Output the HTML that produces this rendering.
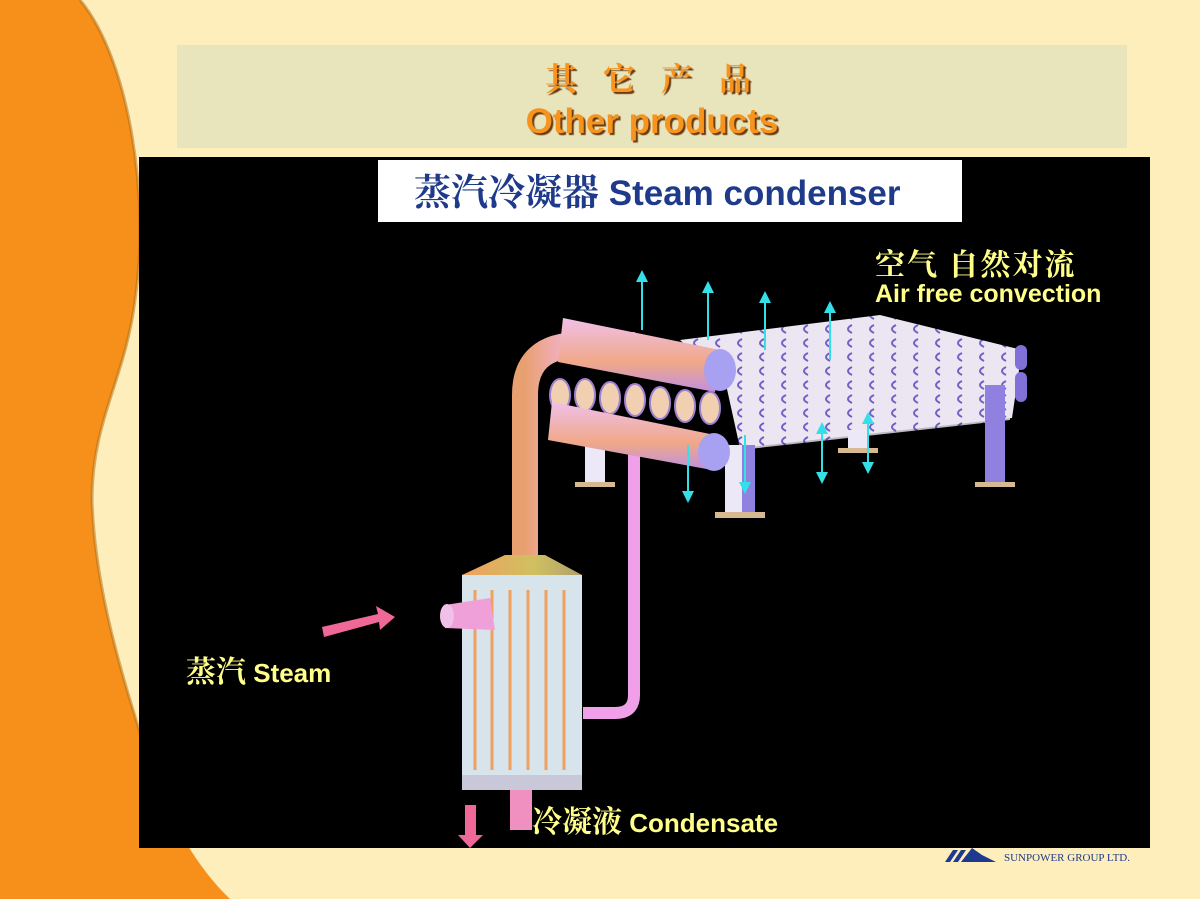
<!DOCTYPE html>
<html><head><meta charset="utf-8"><style>
*{margin:0;padding:0}
body{width:1200px;height:899px;overflow:hidden;background:#fdeebb;position:relative;font-family:"Liberation Sans","Noto Sans CJK SC",sans-serif}
.a{position:absolute;white-space:nowrap}
.s{font-family:"Liberation Serif","Noto Serif CJK SC",serif;font-weight:bold}
</style></head><body>
<svg class="a" style="left:0;top:0" width="1200" height="899">
<defs>
<linearGradient id="pk" x1="0" x2="1"><stop offset="0" stop-color="#e9a070"/><stop offset=".5" stop-color="#f4b8e8"/><stop offset="1" stop-color="#d890e0"/></linearGradient>
<linearGradient id="cy" x1="0" y1="0" x2="0" y2="1"><stop offset="0" stop-color="#f0c0e8"/><stop offset=".6" stop-color="#f0a888"/><stop offset="1" stop-color="#c090e0"/></linearGradient>
<linearGradient id="cone" x1="0" x2="1"><stop offset="0" stop-color="#f0a060"/><stop offset=".6" stop-color="#d0c060"/><stop offset="1" stop-color="#b0a070"/></linearGradient>
<pattern id="fin" width="22" height="14" patternUnits="userSpaceOnUse"><rect width="22" height="14" fill="#ece6f2"/><path d="M16 3 Q8 7 16 11" stroke="#7060c8" stroke-width="2" fill="none"/></pattern>
<marker id="ah" markerWidth="6" markerHeight="6" refX="3" refY="3" orient="auto"><path d="M0,0 L6,3 L0,6Z" fill="#33e0e8"/></marker>
</defs>
<path d="M0,0 L80,0 C130,60 150,200 135,300 C125,380 92,420 92,500 C95,600 130,700 155,780 C180,840 205,875 230,899 L0,899Z" fill="#f7901a"/>
<path d="M80,0 C130,60 150,200 135,300 C125,380 92,420 92,500 C95,600 130,700 155,780" stroke="#b06a10" stroke-width="3" fill="none" opacity=".5"/>
<rect x="177" y="45" width="950" height="103" fill="#e8e4bc"/>
<rect x="139" y="157" width="1011" height="691" fill="#000"/>
<rect x="378" y="160" width="584" height="62" fill="#fff"/>
<polygon points="680,340 880,315 1022,350 1012,418 740,448 725,380" fill="url(#fin)"/>
<polygon points="730,395 1010,360 1010,420 740,450" fill="url(#fin)" opacity=".8"/>
<rect x="585" y="440" width="20" height="45" fill="#ece8f8"/><rect x="575" y="482" width="40" height="5" fill="#d8b890"/>
<rect x="725" y="445" width="30" height="70" fill="#ece8f8"/><rect x="742" y="445" width="13" height="70" fill="#9080e0"/><rect x="715" y="512" width="50" height="6" fill="#d8b890"/>
<rect x="848" y="430" width="20" height="20" fill="#ece8f8"/><rect x="838" y="448" width="40" height="5" fill="#d8b890"/>
<rect x="985" y="385" width="20" height="100" fill="#9080e0"/><rect x="975" y="482" width="40" height="5" fill="#d8b890"/>
<rect x="1015" y="345" width="12" height="25" rx="6" fill="#8070d8"/><rect x="1015" y="372" width="12" height="30" rx="6" fill="#8070d8"/>
<path d="M525,560 L525,395 Q525,345 580,345 L635,345" stroke="url(#pk)" stroke-width="26" fill="none"/>
<path d="M634,440 L634,695 Q634,713 615,713 L583,713" stroke="#f0a0e8" stroke-width="12" fill="none"/>
<path d="M563,318 L720,350 L715,392 L558,362Z" fill="url(#cy)"/><ellipse cx="720" cy="370" rx="16" ry="21" fill="#a8a0f0"/>
<g fill="#f0d0b0" stroke="#a080d0" stroke-width="2"><ellipse cx="560" cy="395" rx="10" ry="16"/><ellipse cx="585" cy="395" rx="10" ry="16"/><ellipse cx="610" cy="398" rx="10" ry="16"/><ellipse cx="635" cy="400" rx="10" ry="16"/><ellipse cx="660" cy="403" rx="10" ry="16"/><ellipse cx="685" cy="406" rx="10" ry="16"/><ellipse cx="710" cy="408" rx="10" ry="16"/></g>
<path d="M552,402 L715,435 L712,470 L548,440Z" fill="url(#cy)"/><ellipse cx="714" cy="452" rx="16" ry="19" fill="#a8a0f0"/>
<polygon points="505,555 545,555 582,575 462,575" fill="url(#cone)"/>
<rect x="462" y="575" width="120" height="200" fill="#d8e4ec"/>
<g stroke="#f0a060" stroke-width="3"><line x1="475" y1="590" x2="475" y2="770"/><line x1="492" y1="590" x2="492" y2="770"/><line x1="510" y1="590" x2="510" y2="770"/><line x1="528" y1="590" x2="528" y2="770"/><line x1="546" y1="590" x2="546" y2="770"/><line x1="564" y1="590" x2="564" y2="770"/></g>
<rect x="462" y="775" width="120" height="15" fill="#c8c8d8"/>
<rect x="510" y="790" width="22" height="40" fill="#f090c0"/>
<path d="M445,605 L490,598 L495,630 L445,628Z" fill="#f0a0d8"/><ellipse cx="447" cy="616" rx="7" ry="12" fill="#f0c0e8"/>
<g stroke="#33e0e8" stroke-width="2" marker-end="url(#ah)">
<line x1="642" y1="330" x2="642" y2="276"/><line x1="708" y1="340" x2="708" y2="287"/><line x1="765" y1="350" x2="765" y2="297"/><line x1="830" y1="360" x2="830" y2="307"/>
<line x1="688" y1="445" x2="688" y2="497"/><line x1="745" y1="435" x2="745" y2="488"/><line x1="822" y1="425" x2="822" y2="478"/><line x1="868" y1="415" x2="868" y2="468"/>
<line x1="822" y1="478" x2="822" y2="428"/><line x1="868" y1="468" x2="868" y2="418"/>
</g>
<polygon points="322,627 378,614 376,606 395,617 380,630 379,622 324,637" fill="#f06898"/>
<polygon points="465,805 476,805 476,835 483,835 470,848 458,835 465,835" fill="#f06898"/>
<polygon points="945,862 953,850 958,850 950,862" fill="#1e3a8f"/><polygon points="953,862 961,850 966,850 958,862" fill="#1e3a8f"/><polygon points="961,862 972,848 982,855 996,862" fill="#1e3a8f"/>
</svg>
<div class="a s" style="left:545px;top:54px;font-size:32px;color:#f7941d;letter-spacing:26px;text-shadow:2px 2px 1px #6a3a10">其它产品</div>
<div class="a" style="left:0;top:102px;width:1304px;text-align:center;font-size:35px;color:#f7941d;font-weight:bold;text-shadow:2px 2px 1px #6a3a10">Other products</div>
<div class="a" style="left:414px;top:162px;font-size:35px;color:#1f3a8a;font-weight:bold"><span class="s" style="font-size:37px">蒸汽冷凝器</span> Steam condenser</div>
<div class="a s" style="left:875px;top:240px;font-size:30px;color:#ffff8a;letter-spacing:2px">空气 自然对流</div>
<div class="a" style="left:875px;top:280px;font-size:25px;font-weight:bold;color:#ffff8a">Air free convection</div>
<div class="a" style="left:186px;top:647px;font-size:26px;font-weight:bold;color:#ffff8a"><span class="s" style="font-size:30px">蒸汽</span> Steam</div>
<div class="a" style="left:532px;top:797px;font-size:26px;font-weight:bold;color:#ffff8a"><span class="s" style="font-size:30px">冷凝液</span> Condensate</div>
<div class="a" style="left:1004px;top:852px;font-size:11px;color:#1e3a8f;font-family:'Liberation Serif',serif">SUNPOWER GROUP LTD.</div>
</body></html>
